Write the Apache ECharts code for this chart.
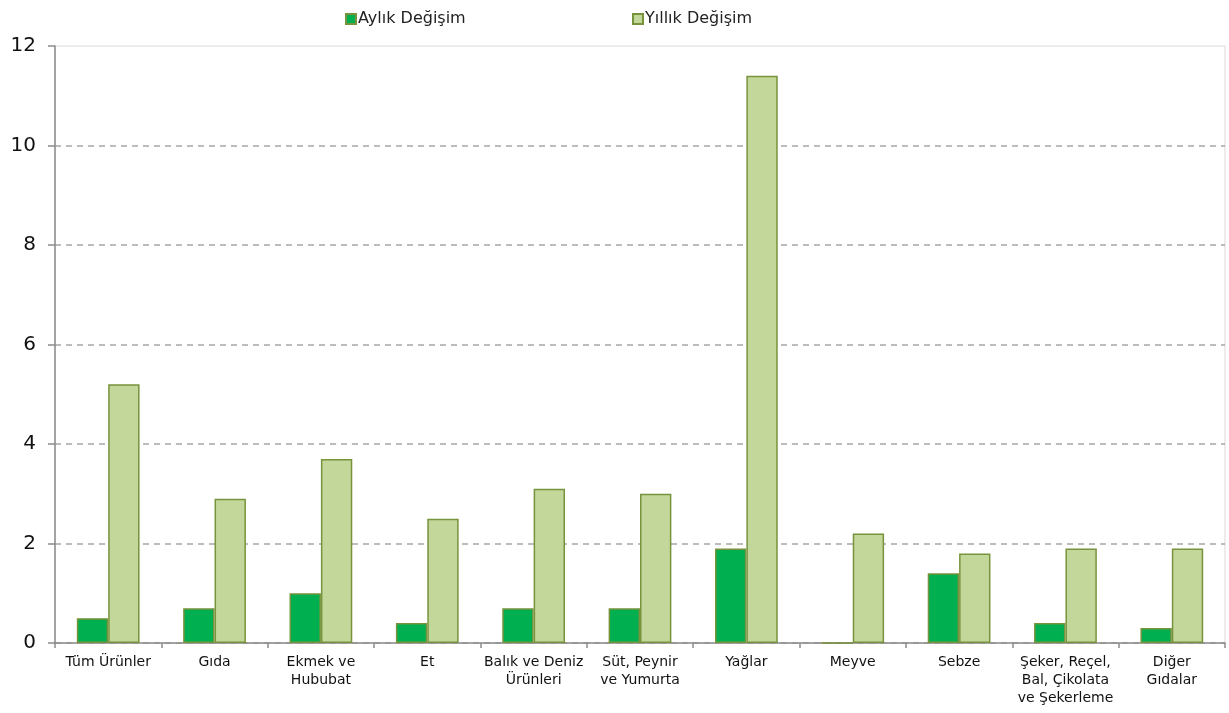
<!DOCTYPE html>
<html>
<head>
<meta charset="utf-8">
<script src="https://cdn.jsdelivr.net/npm/echarts@6/dist/echarts.min.js"></script>
<style>html,body{margin:0;padding:0;background:#fff}#c{width:1229px;height:713px}</style>
</head>
<body>
<div id="c"></div>
<script>
const categories = ["Tüm Ürünler","Gıda","Ekmek ve\nHububat","Et","Balık ve Deniz\nÜrünleri","Süt, Peynir\nve Yumurta","Yağlar","Meyve","Sebze","Şeker, Reçel,\nBal, Çikolata\nve Şekerleme","Diğer\nGıdalar"];
const monthly = [0.5, 0.7, 1.0, 0.4, 0.7, 0.7, 1.9, 0, 1.4, 0.4, 0.3];
const yearly = [5.2, 2.9, 3.7, 2.5, 3.1, 3.0, 11.4, 2.2, 1.8, 1.9, 1.9];
const yTicks = [0, 2, 4, 6, 8, 10, 12];

const font = "DejaVu Sans, Verdana, sans-serif";
const chart = echarts.init(document.getElementById('c'), null, {renderer: 'canvas'});
const gridColors = yTicks.map((v, i) => i === yTicks.length - 1 ? 'rgba(0,0,0,0)' : '#a6a6a6');
chart.setOption({
  animation: false,
  backgroundColor: '#fff',
  textStyle: {fontFamily: font},
  legend: [
    {data: ['Aylık Değişim'], left: 340, top: 6, icon: 'rect', itemWidth: 10, itemHeight: 10,
     textStyle: {fontSize: 16, color: '#222', fontFamily: font, padding: [0,0,0,-3]}},
    {data: ['Yıllık Değişim'], left: 627, top: 6, icon: 'rect', itemWidth: 10, itemHeight: 10,
     textStyle: {fontSize: 16, color: '#222', fontFamily: font, padding: [0,0,0,-3]}}
  ],
  grid: {left: 55, right: 4, top: 46, bottom: 70, show: true, borderColor: '#d9d9d9', borderWidth: 1},
  xAxis: {
    type: 'category', data: categories,
    axisLine: {lineStyle: {color: '#8c8c8c', width: 1.5}},
    axisTick: {show: true, length: 5, lineStyle: {color: '#8c8c8c', width: 1.5}},
    axisLabel: {interval: 0, fontSize: 14, color: '#111', fontFamily: font, lineHeight: 18, margin: 10}
  },
  yAxis: {
    type: 'value', min: 0, max: 12, interval: 2,
    axisLine: {show: true, lineStyle: {color: '#8c8c8c', width: 1.5}},
    axisTick: {show: true, length: 7, lineStyle: {color: '#8c8c8c', width: 1.5}},
    axisLabel: {fontSize: 20, color: '#111', fontFamily: font, margin: 19,
      formatter: v => yTicks.includes(v) ? String(v) : ''},
    splitLine: {lineStyle: {color: gridColors, type: [6, 5], width: 1.5}}
  },
  series: [
    {name: 'Aylık Değişim', type: 'bar', data: monthly, barGap: '0%', barCategoryGap: '41%',
     itemStyle: {color: '#00B050', borderColor: '#77933C', borderWidth: 1.5}},
    {name: 'Yıllık Değişim', type: 'bar', data: yearly, barGap: '0%', barCategoryGap: '41%',
     itemStyle: {color: '#C4D79B', borderColor: '#77933C', borderWidth: 1.5}}
  ]
});
</script>
</body>
</html>
